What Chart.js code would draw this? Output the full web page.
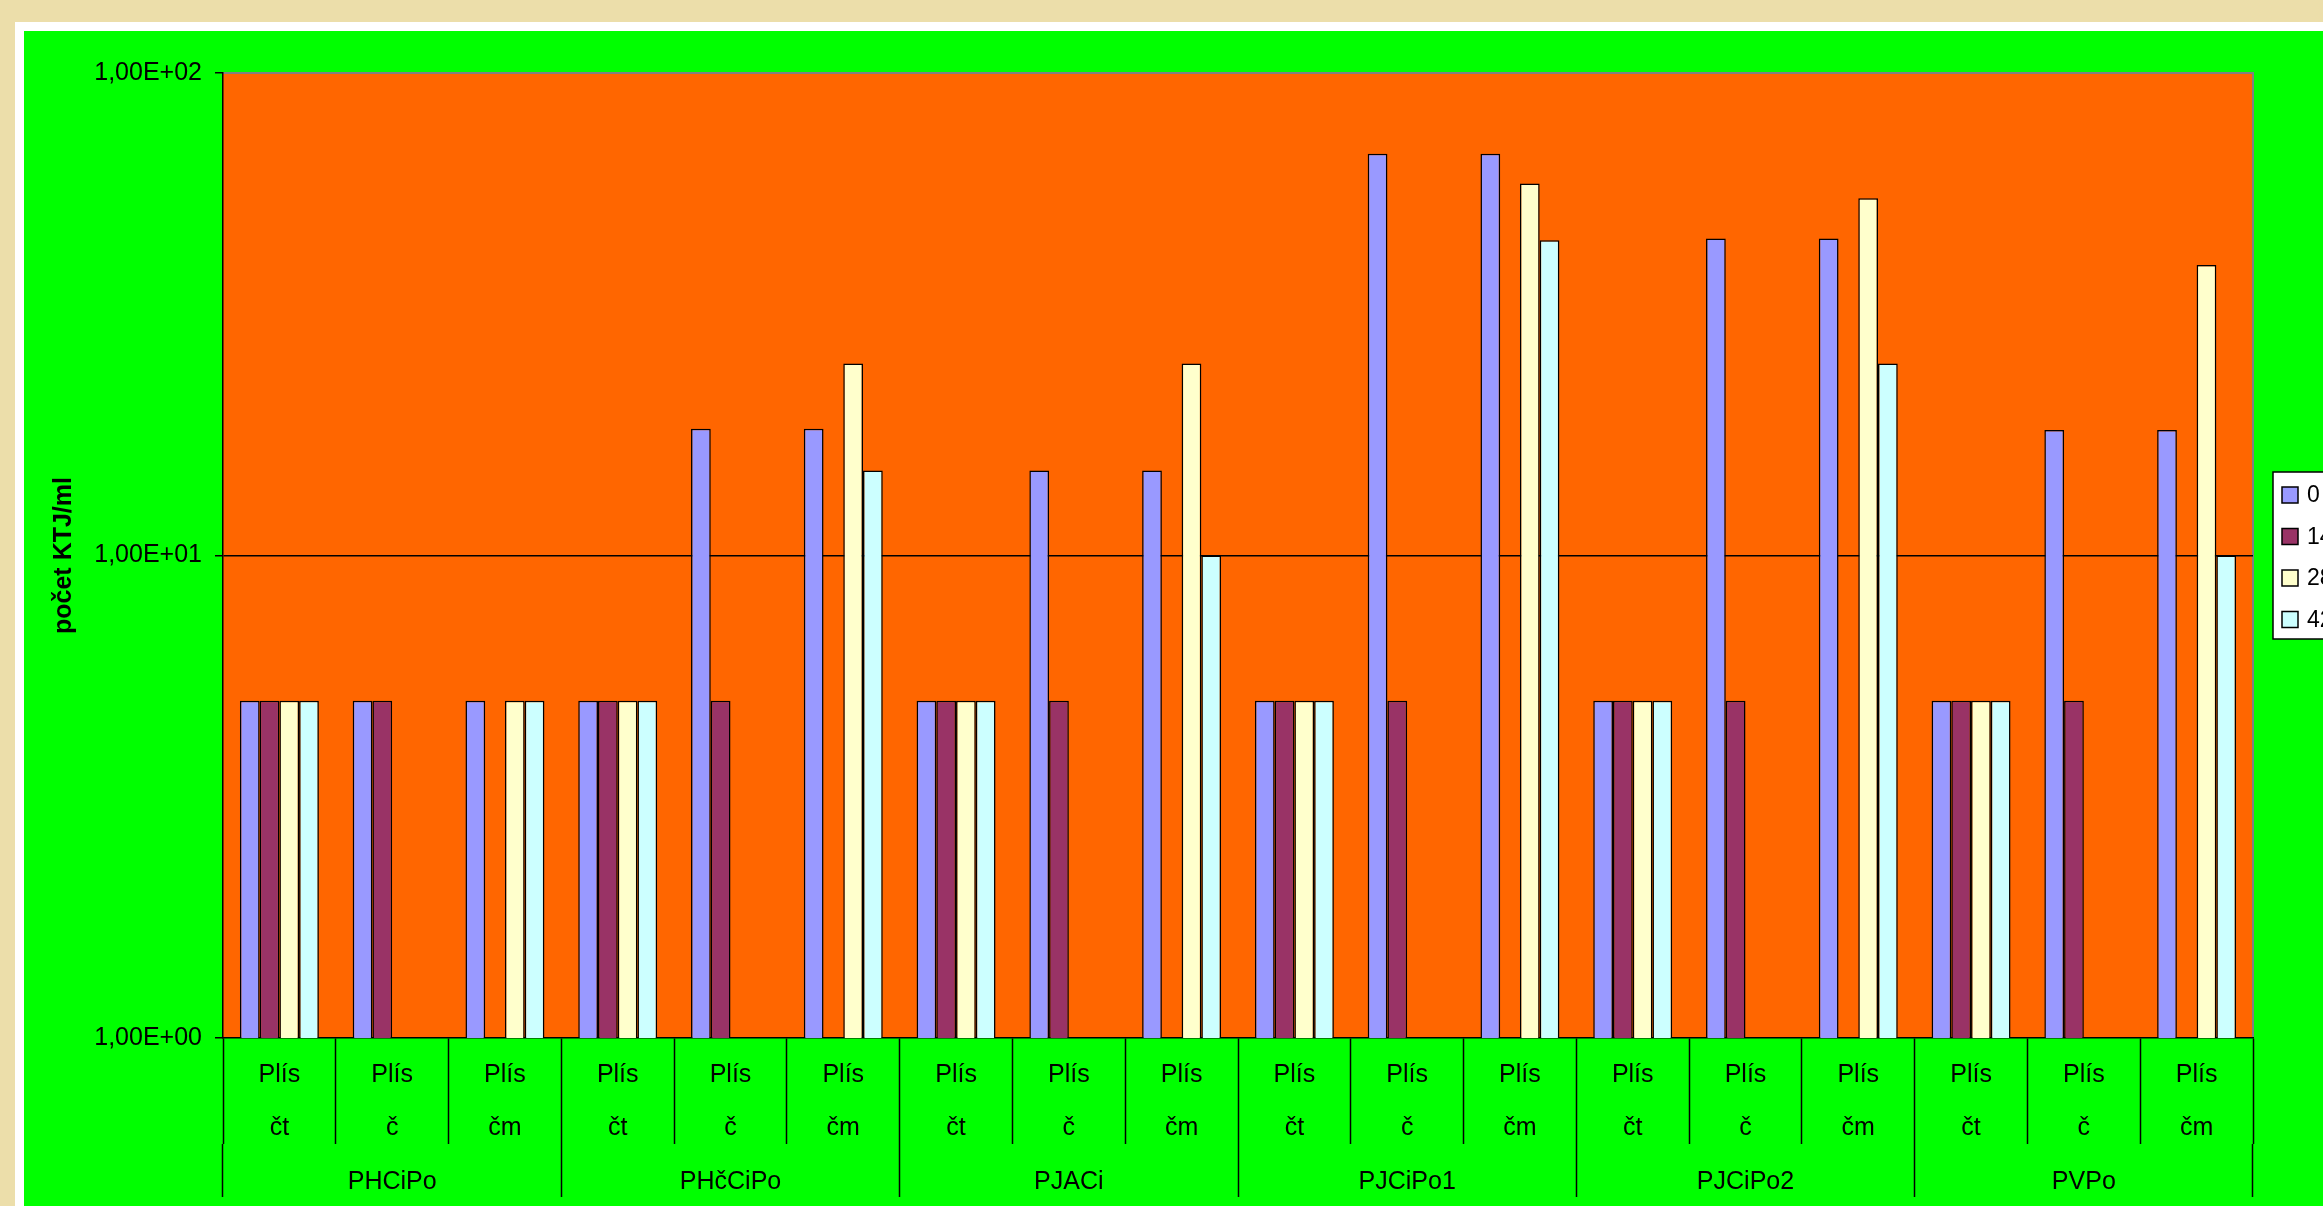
<!DOCTYPE html>
<html lang="cs">
<head>
<meta charset="utf-8">
<title>počet KTJ/ml</title>
<script src="https://cdn.jsdelivr.net/npm/chart.js@4.4.1/dist/chart.umd.min.js"></script>
<style>
  html, body { margin: 0; padding: 0; width: 2323px; height: 1206px; overflow: hidden; background: #ECDEAA; }
  #frame { position: absolute; left: 15px; top: 22px; width: 2400px; height: 1300px; background: #FFFFFF; }
  #chart { position: absolute; left: 24px; top: 31px; background: #00FF00; }
</style>
</head>
<body>
<div id="frame"></div>
<canvas id="chart" width="2299" height="1175"></canvas>
<script>
// Sampling sites, sample kinds within each site and the day series
const groups = ['PHCiPo', 'PHčCiPo', 'PJACi', 'PJCiPo1', 'PJCiPo2', 'PVPo'];
const kinds = ['čt', 'č', 'čm'];
const kindPrefix = 'Plís';
const seriesNames = ['0', '14', '28', '42'];
const yTicks = [1, 10, 100];

// počet KTJ/ml per category (null = not determined)
const day0  = [5, 5, 5,   5, 18.3, 18.3,   5, 15, 15,   5, 68, 68,   5, 45.4, 45.4,   5, 18.2, 18.2];
const day14 = [5, 5, null, 5, 5, null,     5, 5, null,  5, 5, null,  5, 5, null,      5, 5, null];
const day28 = [5, null, 5, 5, null, 25,    5, null, 25, 5, null, 59, 5, null, 55,     5, null, 40];
const day42 = [5, null, 5, 5, null, 15,    5, null, 10, 5, null, 45, 5, null, 25,     5, null, 10];

const seriesColors = ['#9999FF', '#993366', '#FFFFCC', '#CCFFFF'];

const categories = groups.flatMap(() => kinds.map(k => [kindPrefix, k]));
const seriesData = [day0, day14, day28, day42];

const FONT = "'Liberation Sans', Arial, sans-serif";

function sciLabel(v) {
  const exp = Math.round(Math.log10(v));
  const mant = v / Math.pow(10, exp);
  return mant.toFixed(2).replace('.', ',') + 'E' + (exp < 0 ? '-' : '+') + String(Math.abs(exp)).padStart(2, '0');
}

// Orange plot background with a grey frame on top and right
const plotBackground = {
  id: 'plotBackground',
  beforeDraw(chart) {
    const { ctx, chartArea: a } = chart;
    ctx.save();
    ctx.fillStyle = '#FF6600';
    ctx.fillRect(a.left, a.top, a.right - a.left, a.bottom - a.top);
    ctx.strokeStyle = '#808080';
    ctx.lineWidth = 2;
    ctx.beginPath();
    ctx.moveTo(a.left, a.top);
    ctx.lineTo(a.right, a.top);
    ctx.lineTo(a.right, a.bottom);
    ctx.stroke();
    ctx.restore();
  }
};

// Boxed legend to the right of the plot
const boxedLegend = {
  id: 'boxedLegend',
  afterDraw(chart) {
    const { ctx, chartArea: a } = chart;
    const sets = chart.data.datasets;
    const rowH = 41.5;
    const boxH = 167;
    const left = a.right + 20;
    const top = (a.top + a.bottom) / 2 - boxH / 2;
    ctx.save();
    ctx.fillStyle = '#FFFFFF';
    ctx.fillRect(left, top, 120, boxH);
    ctx.strokeStyle = '#000000';
    ctx.lineWidth = 1.5;
    ctx.strokeRect(left, top, 120, boxH);
    ctx.font = '23px ' + FONT;
    ctx.textBaseline = 'middle';
    ctx.textAlign = 'left';
    sets.forEach((ds, i) => {
      const cy = top + 23 + i * rowH;
      ctx.fillStyle = ds.backgroundColor;
      ctx.fillRect(left + 9, cy - 8, 16, 16);
      ctx.strokeStyle = '#000000';
      ctx.lineWidth = 1.5;
      ctx.strokeRect(left + 9, cy - 8, 16, 16);
      ctx.fillStyle = '#000000';
      ctx.fillText(ds.label, left + 34, cy + 1);
    });
    ctx.restore();
  }
};

new Chart(document.getElementById('chart'), {
  type: 'bar',
  data: {
    labels: categories,
    datasets: seriesNames.map((name, i) => ({
      label: name,
      data: seriesData[i],
      backgroundColor: seriesColors[i],
      borderColor: '#000000',
      borderWidth: 1.5,
      categoryPercentage: 0.7,
      barPercentage: 1.0
    }))
  },
  options: {
    responsive: false,
    devicePixelRatio: 1,
    animation: false,
    layout: { padding: { top: 42, right: 70, left: 0, bottom: 0 } },
    plugins: { legend: { display: false }, tooltip: { enabled: false } },
    scales: {
      y: {
        type: 'logarithmic',
        min: 1,
        max: 100,
        afterBuildTicks(scale) { scale.ticks = yTicks.map(v => ({ value: v })); },
        afterFit(scale) { scale.width = 199; },
        border: { display: true, color: '#000000', width: 1.5 },
        grid: {
          drawOnChartArea: true,
          color: c => (c.tick && c.tick.value === 10 ? '#000000' : 'rgba(0,0,0,0)'),
          lineWidth: 1.5,
          drawTicks: true,
          tickLength: 8,
          tickColor: '#000000',
          tickWidth: 1.5
        },
        ticks: {
          color: '#000000',
          font: { family: FONT, size: 25 },
          padding: 13,
          callback: v => sciLabel(v)
        },
        title: {
          display: true,
          text: 'počet KTJ/ml',
          color: '#000000',
          font: { family: FONT, size: 25, weight: 'bold' },
          padding: { top: 25, bottom: 0 }
        }
      },
      x: {
        type: 'category',
        position: 'bottom',
        weight: 0,
        afterFit(scale) { scale.height = 106; },
        border: { display: true, color: '#000000', width: 1.5 },
        grid: {
          offset: true,
          drawOnChartArea: false,
          drawTicks: true,
          tickLength: 106,
          tickColor: '#000000',
          tickWidth: 1.5
        },
        ticks: {
          autoSkip: false,
          maxRotation: 0,
          minRotation: 0,
          color: '#000000',
          font: { family: FONT, size: 25, lineHeight: 2.12 },
          padding: -95.5
        }
      },
      x2: {
        type: 'category',
        position: 'bottom',
        weight: 1,
        labels: groups,
        offset: true,
        afterFit(scale) { scale.height = 62; },
        border: { display: false },
        grid: {
          offset: true,
          drawOnChartArea: false,
          drawTicks: true,
          tickLength: 53,
          tickColor: '#000000',
          tickWidth: 1.5
        },
        ticks: {
          autoSkip: false,
          maxRotation: 0,
          minRotation: 0,
          color: '#000000',
          font: { family: FONT, size: 25 },
          padding: -30
        }
      }
    }
  },
  plugins: [plotBackground, boxedLegend]
});
</script>
</body>
</html>
